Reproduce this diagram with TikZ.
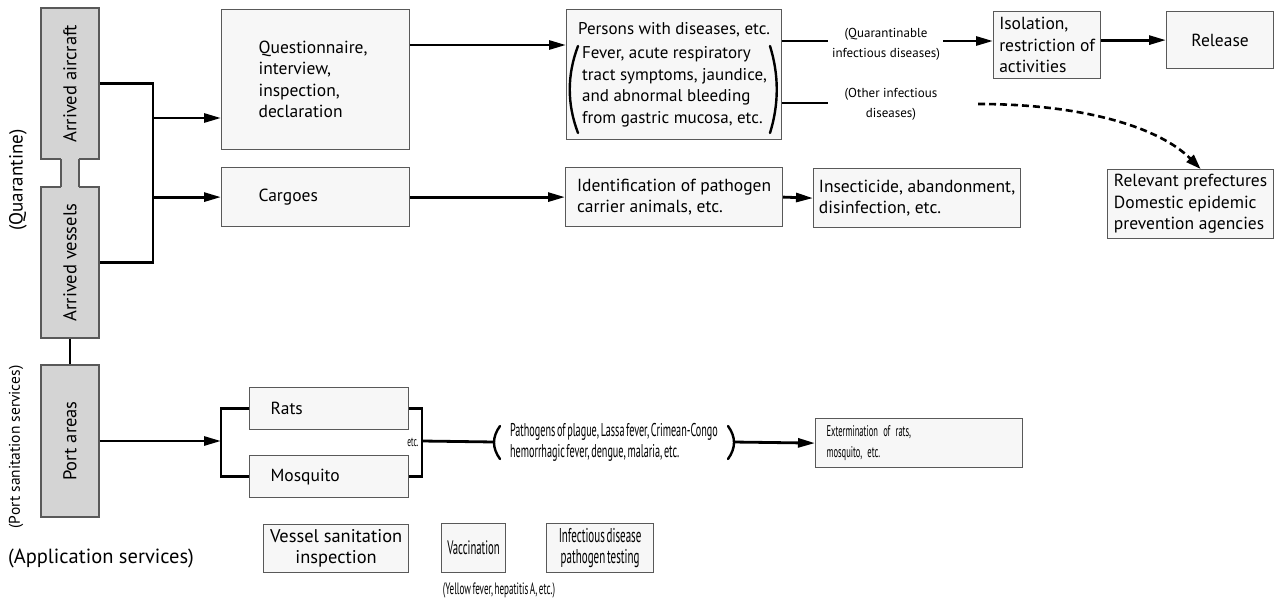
\documentclass[tikz,border=0pt]{standalone}
\usepackage{fontspec}
\setmainfont{PT Sans}
\newfontfamily\narrowfont{PT Sans}[FakeStretch=0.55,WordSpace=0.6]
\usetikzlibrary{arrows.meta}
\begin{document}
\begin{tikzpicture}[x=1pt,y=-1pt,
    box/.style={draw=black!65,fill=black!3,line width=1.2pt,inner sep=0pt,anchor=north west,font=\fontsize{17.5}{21.5}\selectfont},
    greybox/.style={draw=black!65,fill=black!17,line width=1.2pt,inner sep=0pt,minimum width=58,font=\fontsize{18.5}{20}\selectfont},
    note/.style={inner sep=0pt,align=center,font=\fontsize{13}{20}\selectfont},
    narrow/.style={font=\narrowfont\fontsize{#1}{21}\selectfont},
    link/.style={line width=2.8pt},
    arr/.style={link,-{Triangle[length=17pt,width=9pt]}},
    dasharr/.style={line width=2.6pt,dash pattern=on 7pt off 4pt,-{Triangle[length=15pt,width=10pt]}},
    paren/.style={line width=2.4pt,line cap=round}]
            \useasboundingbox (0,0) rectangle (1274,603);
            \node[greybox,minimum height=151] (aircraft) at (70,83.5) {\rotatebox{90}{Arrived aircraft}};
            \node[greybox,minimum height=151] (vessels) at (70,262.5) {\rotatebox{90}{Arrived vessels}};
            \node[greybox,minimum height=152] (port) at (70,441) {\rotatebox{90}{Port areas}};
            \fill[black!17] (61,158) rectangle (79,188);
            \draw[black!65,line width=1.2pt] (61,159) -- (61,187) (79,159) -- (79,187);
            \node[note,rotate=90,font=\fontsize{19}{20}\selectfont] (quarantine) at (18,180) {(Quarantine)};
            \node[note,rotate=90,font=\fontsize{15.5}{18}\selectfont] (portsan) at (16,447) {(Port sanitation services)};
            \node[note,font=\fontsize{20.5}{24}\selectfont] (appserv) at (101,558) {(Application services)};

            \node[box,minimum width=188,minimum height=140,align=left,text width=114] (quest) at (221,9) {Questionnaire,\\interview,\\inspection,\\declaration};
            \node[box,minimum width=188,minimum height=59,align=left,text width=114] (cargo) at (221,167) {Cargoes};
            \node[box,minimum width=215,minimum height=130,align=left,font=\fontsize{17}{21.5}\selectfont] (persons) at (566,9) {Persons with diseases, etc.\\[3pt]\hspace*{4pt}Fever, acute respiratory\\\hspace*{4pt}tract symptoms, jaundice,\\\hspace*{4pt}and abnormal bleeding\\\hspace*{4pt}from gastric mucosa, etc.};
            \draw[paren] (578,46) .. controls (567,75) and (567,104) .. (578,133);
            \draw[paren] (770,46) .. controls (779,75) and (779,104) .. (770,133);
            \node[note] (quarlbl) at (886,44) {(Quarantinable\\infectious diseases)};
            \node[note] (otherlbl) at (891,104) {(Other infectious\\diseases)};
            \node[box,minimum width=107,minimum height=67,align=left] (isol) at (993,11) {Isolation,\\restriction of\\activities};
            \node[box,minimum width=107,minimum height=57] (release) at (1166,11) {Release};
            \node[box,minimum width=166,minimum height=69,align=left] (relevant) at (1107,169) {Relevant prefectures\\Domestic epidemic\\prevention agencies};
            \node[box,minimum width=217,minimum height=59,align=left] (ident) at (565,167) {Identification of pathogen\\carrier animals, etc.};
            \node[box,minimum width=207,minimum height=59,align=left] (insect) at (813,168) {Insecticide, abandonment,\\disinfection, etc.};

            \node[box,minimum width=159,minimum height=42,align=left,text width=117] (rats) at (249,387) {Rats};
            \node[box,minimum width=159,minimum height=42,align=left,text width=117] (mosq) at (249,455) {Mosquito};
            \node[note,narrow=13.5] (etclbl) at (413,442) {etc.};
            \node[inner sep=0pt,minimum width=238,align=left,narrow=18.5] (pathogen) at (614,442) {Pathogens of plague, Lassa fever, Crimean-Congo\\hemorrhagic fever, dengue, malaria, etc.};
            \draw[paren] (500,426) .. controls (492,437) and (492,448) .. (500,459);
            \draw[paren] (728,426) .. controls (736,437) and (736,448) .. (728,459);
            \node[box,minimum width=207,minimum height=49,align=left,text width=185,narrow=15.5] (exterm) at (815,418) {Extermination of rats,\\mosquito, etc.};

            \node[box,minimum width=145,minimum height=48,align=center,font=\fontsize{18.4}{21}\selectfont] (vsi) at (263,524) {Vessel sanitation\\inspection};
            \node[box,minimum width=64,minimum height=49,narrow=19.5] (vacc) at (441,523) {Vaccination};
            \node[box,minimum width=107,minimum height=49,align=center,narrow=20] (pathtest) at (546,523) {Infectious disease\\pathogen testing};
            \node[note,narrow=16.5] (yellow) at (499,590) {(Yellow fever, hepatitis A, etc.)};

            \coordinate (qsplit) at (153,118);
            \coordinate (prow) at (0,45);
            \coordinate (qrow) at (0,41);
            \coordinate (orow) at (0,103);
            \coordinate (dstart) at (978,104);
            \coordinate (psplit) at (221,441);
            \coordinate (pjoin) at (422,441);
            \draw[link] (aircraft.east) -- (aircraft.east -| qsplit) -- (vessels.east -| qsplit) -- (vessels.east);
            \draw[arr] (qsplit) -- (qsplit -| quest.west);
            \draw[arr] (qsplit |- cargo.west) -- (cargo.west);
            \draw[arr] (quest.east |- prow) -- (persons.west |- prow);
            \draw[arr] (cargo.east) -- (ident.west);
            \draw[arr] (ident.east) -- (insect.west);
            \draw[link] (persons.east |- qrow) -- ++(46,0);
            \draw[link] (persons.east |- orow) -- ++(46,0);
            \draw[arr,shorten <=3pt] (quarlbl.east |- qrow) -- (isol.west |- qrow);
            \draw[arr] (isol.east |- release.west) -- (release.west);
            \draw[dasharr] (dstart) .. controls (1085,104) and (1160,128) .. ([xshift=10pt]relevant.north);
            \draw[link] (vessels.south) -- (port.north);
            \draw[arr] (port.east) -- (psplit);
            \draw[link] (rats.west) -- (rats.west -| psplit) -- (mosq.west -| psplit) -- (mosq.west);
            \draw[link] (rats.east) -- (rats.east -| pjoin) -- (mosq.east -| pjoin) -- (mosq.east);
            \draw[link] (pjoin) -- (pathogen.west);
            \draw[arr] (pathogen.east) -- (exterm.west);
\end{tikzpicture}
\end{document}
